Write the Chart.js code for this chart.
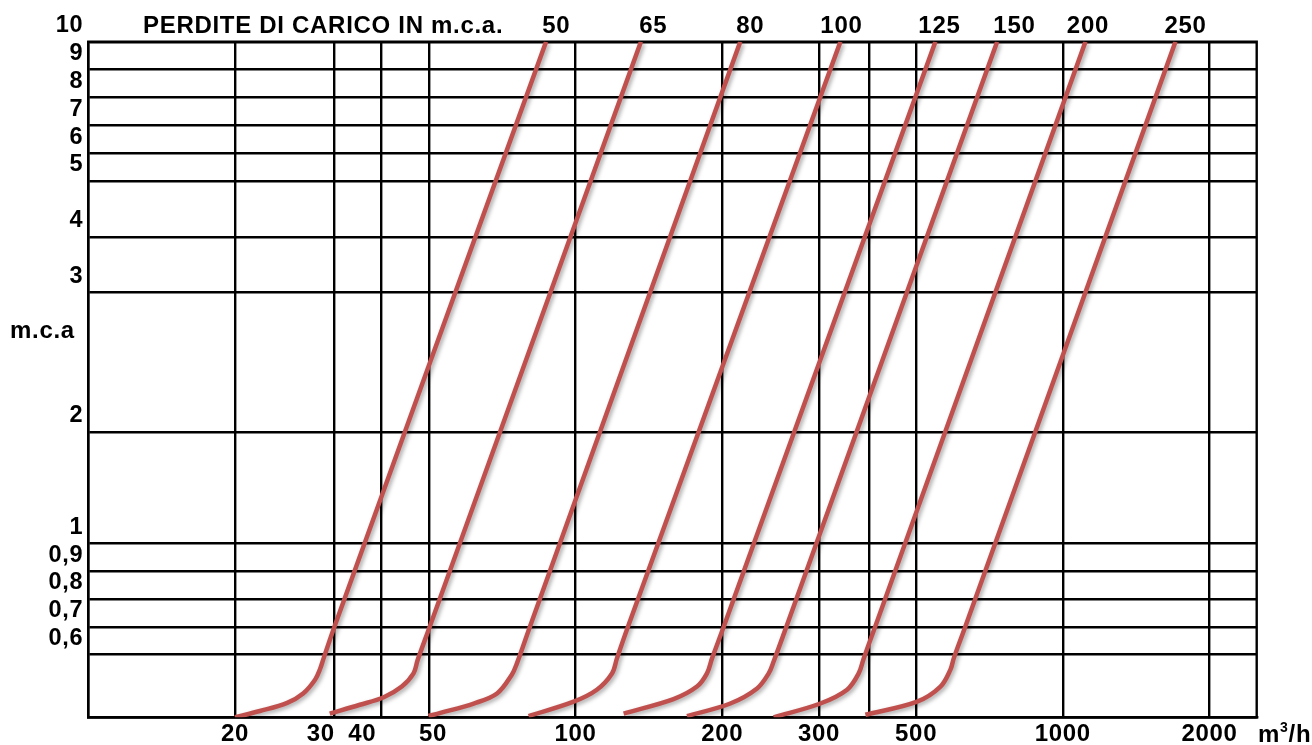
<!DOCTYPE html>
<html>
<head>
<meta charset="utf-8">
<script src="https://cdn.jsdelivr.net/npm/chart.js@4/dist/chart.umd.min.js"></script>
<style>
  html, body { margin: 0; padding: 0; background: #fff; }
  #wrap { width: 1312px; height: 745px; }
</style>
</head>
<body>
<div id="wrap"><canvas id="lossChart" width="1312" height="745"></canvas></div>
<script>
// ----------------------
// DATA (flow m3/h, loss m.c.a.)
// ----------------------
const diameters = ["50", "65", "80", "100", "125", "150", "200", "250"];

const flow50  = [20, 22.5, 25.6, 27.6, 29.2, 29.9, 30.4, 32, 87];
const loss50  = [0.5, 0.51, 0.523, 0.538, 0.56, 0.577, 0.594, 0.7, 10];
const flow65  = [31.3, 36.1, 40.4, 44.0, 46.5, 47.4, 50.2, 136.2];
const loss65  = [0.506, 0.52, 0.532, 0.549, 0.57, 0.591, 0.7, 10];
const flow80  = [49.9, 52.8, 61.8, 69.0, 74.0, 75.8, 80.6, 217.8];
const loss80  = [0.502, 0.507, 0.522, 0.538, 0.568, 0.586, 0.7, 10];
const flow100 = [80.1, 99.1, 110.6, 118.8, 121.6, 128.1, 349.6];
const loss100 = [0.502, 0.525, 0.544, 0.57, 0.594, 0.7, 10];
const flow125 = [125.5, 158.9, 177.5, 186.1, 190.6, 201.4, 547.7];
const loss125 = [0.506, 0.529, 0.549, 0.57, 0.594, 0.7, 10];
const flow150 = [169.3, 207.8, 235.8, 249.1, 255.0, 270.8, 733.3];
const loss150 = [0.502, 0.522, 0.546, 0.57, 0.589, 0.7, 10];
const flow200 = [255.0, 318.0, 360.8, 381.1, 390.3, 412, 1113];
const loss200 = [0.5, 0.522, 0.544, 0.57, 0.594, 0.7, 10];
const flow250 = [393.4, 502.3, 561.0, 588.0, 597.3, 630.7, 1703];
const loss250 = [0.504, 0.525, 0.549, 0.576, 0.594, 0.7, 10];

const seriesFlow = [flow50, flow65, flow80, flow100, flow125, flow150, flow200, flow250];
const seriesLoss = [loss50, loss65, loss80, loss100, loss125, loss150, loss200, loss250];

// vertical grid lines as drawn in the original (30 and 300 sit a bit off)
const flowGridValues = [20, 32, 40, 50, 100, 200, 316, 400, 500, 1000, 2000];
const flowTickLabels = ["20", "30", "40", "50", "100", "200", "300", "500", "1000", "2000"];
const flowTickAt     = [20, 30, 36.5, 51, 100, 200, 316, 500, 1000, 2000];

// the loss axis is hand drawn: uneven steps between ticks
const lossTicks      = [0.5, 0.6, 0.7, 0.8, 0.9, 1, 2, 3, 4, 5, 6, 7, 8, 9, 10];
const lossTickSteps  = [0, 2.25, 3.25, 4.25, 5.25, 6.25, 10.25, 15.25, 17.25, 19.25, 20.25, 21.25, 22.25, 23.25, 24.25];
const lossTickLabels = ["", "0,6", "0,7", "0,8", "0,9", "1", "2", "3", "4", "5", "6", "7", "8", "9", "10"];

// where the diameter names sit above the curves
const dnLabelFlow = [91.3, 144.4, 228.4, 351.3, 558.2, 795.7, 1126, 1786];


// ----------------------
// UTILITIES
// ----------------------
function lossToStep(loss) {
  for (let i = 0; i < lossTicks.length - 1; i++) {
    const a = lossTicks[i], b = lossTicks[i + 1];
    if (loss <= b) {
      const t = (loss - a) / (b - a);
      return lossTickSteps[i] + t * (lossTickSteps[i + 1] - lossTickSteps[i]);
    }
  }
  return lossTickSteps[lossTickSteps.length - 1];
}

const FONT = '"Liberation Sans", Arial, sans-serif';
const CURVE_COLOR = "#c0504d";


// ----------------------
// PLUGINS
// ----------------------
const spacingPlugin = {
  id: "letterSpacing",
  beforeDraw(chart) { chart.ctx.letterSpacing = "0.7px"; }
};

const shadowPlugin = {
  id: "curveShadow",
  beforeDatasetsDraw(chart) {
    const c = chart.ctx;
    c.save();
    c.shadowColor = "rgba(0,0,0,0.35)";
    c.shadowBlur = 4;
    c.shadowOffsetX = 2;
    c.shadowOffsetY = 2;
  },
  afterDatasetsDraw(chart) {
    chart.ctx.restore();
  }
};

const framePlugin = {
  id: "frame",
  beforeDatasetsDraw(chart) {
    const { ctx, chartArea: a } = chart;
    ctx.save();
    ctx.strokeStyle = "#000";
    ctx.lineWidth = 2.4;
    ctx.strokeRect(a.left, a.top, a.right - a.left, a.bottom - a.top);
    ctx.restore();
  }
};

const textPlugin = {
  id: "texts",
  afterDraw(chart) {
    const { ctx, scales } = chart;
    ctx.save();
    ctx.fillStyle = "#000";
    ctx.textBaseline = "alphabetic";

    ctx.font = "bold 24px " + FONT;
    ctx.textAlign = "left";
    ctx.fillText("PERDITE DI CARICO IN m.c.a.", 143, 33.3);

    ctx.textAlign = "center";
    diameters.forEach((dn, i) => {
      ctx.fillText(dn, scales.x.getPixelForValue(dnLabelFlow[i]), 33.3);
    });

    ctx.textAlign = "left";
    ctx.fillText("m.c.a", 10, 338.3);

    // unit of the flow axis: m³/h
    const ux = 1258;
    ctx.fillText("m", ux, 741.7);
    const mw = ctx.measureText("m").width;
    ctx.font = "bold 14px " + FONT;
    ctx.fillText("3", ux + mw, 732);
    const tw = ctx.measureText("3").width;
    ctx.font = "bold 24px " + FONT;
    ctx.fillText("/h", ux + mw + tw, 741.7);
    ctx.restore();
  }
};


// ----------------------
// CHART
// ----------------------
const datasets = diameters.map((dn, i) => ({
  label: "DN " + dn,
  data: seriesFlow[i].map((f, j) => ({ x: f, y: lossToStep(seriesLoss[i][j]) })),
  borderColor: CURVE_COLOR,
  borderWidth: 4.5,
  borderCapStyle: "butt",
  borderJoinStyle: "round",
  pointRadius: 0,
  tension: 0.35,
  fill: false,
  xAxisID: "x",
  yAxisID: "y"
}));

const gridStyle = { color: "#000", lineWidth: 2.4, drawTicks: false };
const borderStyle = { color: "#000", width: 2.4 };

const lossChart = new Chart(document.getElementById("lossChart").getContext("2d"), {
  type: "line",
  data: { datasets },
  options: {
    responsive: false,
    animation: false,
    devicePixelRatio: 1,
    layout: { padding: { top: 41.7, right: 55.3, left: 0, bottom: 0 } },
    plugins: {
      legend: { display: false },
      tooltip: { enabled: false }
    },
    scales: {
      x: {
        type: "logarithmic",
        min: 10,
        max: 2500,
        position: "bottom",
        afterBuildTicks(axis) { axis.ticks = flowGridValues.map(v => ({ value: v })); },
        afterFit(axis) { axis.height = 0; },
        ticks: { display: false },
        grid: gridStyle,
        border: borderStyle
      },
      xLabels: {
        type: "logarithmic",
        min: 10,
        max: 2500,
        position: "bottom",
        afterBuildTicks(axis) { axis.ticks = flowTickAt.map(v => ({ value: v })); },
        afterFit(axis) { axis.height = 27.7; },
        ticks: {
          callback: (v, i) => flowTickLabels[i],
          autoSkip: false,
          maxRotation: 0,
          padding: 3,
          color: "#000",
          font: { family: FONT, size: 24, weight: "bold" }
        },
        grid: { display: false, drawTicks: false },
        border: { display: false }
      },
      y: {
        type: "linear",
        min: 0,
        max: 24.25,
        afterBuildTicks(axis) { axis.ticks = lossTickSteps.map(v => ({ value: v })); },
        afterFit(axis) { axis.width = 88.3; },
        ticks: {
          callback: (v, i) => lossTickLabels[i],
          autoSkip: false,
          labelOffset: -16,
          padding: 5,
          color: "#000",
          font: { family: FONT, size: 23.5, weight: "bold" }
        },
        grid: gridStyle,
        border: borderStyle
      }
    }
  },
  plugins: [spacingPlugin, framePlugin, shadowPlugin, textPlugin]
});
</script>
</body>
</html>
